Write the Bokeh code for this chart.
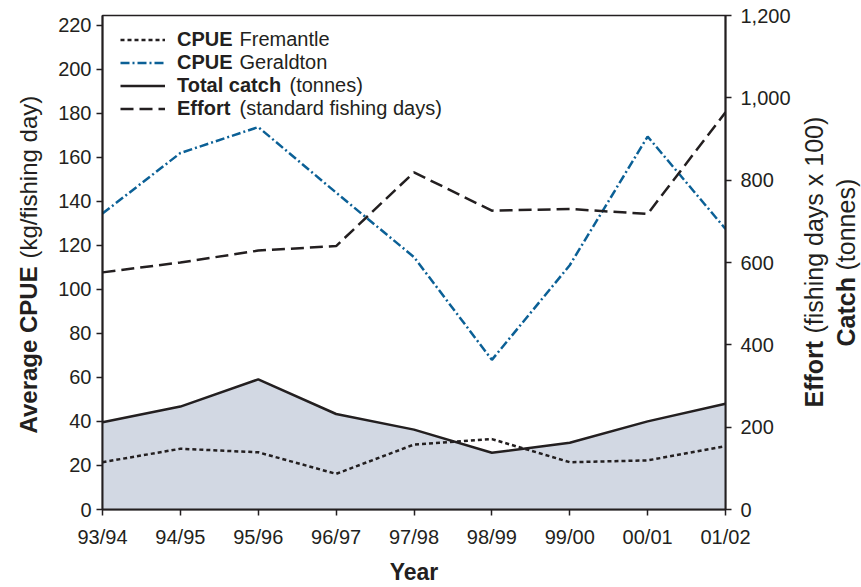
import numpy as np
from bokeh.plotting import figure
from bokeh.layouts import row
from bokeh.models import (Range1d, LinearAxis, FixedTicker, NumeralTickFormatter,
                          Legend, LegendItem, Label, ColumnDataSource)
from bokeh.embed import file_html
from bokeh.resources import INLINE

# ---------------- data ----------------
years = ["93/94", "94/95", "95/96", "96/97", "97/98", "98/99", "99/00", "00/01", "01/02"]
cpue_fremantle = [21.5, 27.6, 26.0, 16.2, 29.5, 32.0, 21.5, 22.3, 28.8]        # kg/fishing day
cpue_geraldton = [134.5, 162.0, 173.8, 144.0, 114.7, 68.0, 111.0, 169.5, 127.5]  # kg/fishing day
total_catch = [212, 250, 316, 232, 194, 138, 162, 214, 257]                     # tonnes
effort = [576, 600, 629, 640, 819, 726, 730, 718, 965]                          # fishing days x 100

left_ticks = list(range(0, 221, 20))
right_ticks = list(range(0, 1201, 200))

x = list(range(len(years)))
src = ColumnDataSource(dict(x=x, fre=cpue_fremantle, ger=cpue_geraldton,
                            catch=total_catch, effort=effort,
                            zero=[0] * len(years)))

# ---------------- layout constants (page pixels) ----------------
H = 587
LW, MW, RW = 54, 746, 61          # left text strip, main chart, right text strip
FX0, FY0, FW, FH = 102, 15, 623, 494   # frame position / size on page
LEFT_MAX, RIGHT_MAX = 224.5, 1200
TXT = "#231f20"
FONT = "Liberation Sans"

p = figure(width=MW, height=H, output_backend="svg", toolbar_location=None,
           x_range=Range1d(0, len(years) - 1), y_range=Range1d(0, LEFT_MAX),
           min_border_left=FX0 - LW, min_border_top=FY0,
           min_border_right=MW - (FX0 - LW) - FW, min_border_bottom=H - FY0 - FH)
p.extra_y_ranges = {"right": Range1d(0, RIGHT_MAX)}
p.grid.visible = False
p.outline_line_color = TXT
p.outline_line_width = 1.5
p.background_fill_color = "white"
p.border_fill_color = "white"

def style_axis(ax, size="20px"):
    ax.axis_line_color = TXT
    ax.axis_line_width = 2
    ax.major_tick_line_color = TXT
    ax.major_tick_line_width = 1.5
    ax.major_tick_out = 6
    ax.major_tick_in = 0
    ax.minor_tick_line_color = None
    ax.major_label_text_font = FONT
    ax.major_label_text_font_size = size
    ax.major_label_text_color = TXT

# x axis
xa = p.xaxis[0]
xa.ticker = FixedTicker(ticks=x)
xa.major_label_overrides = {i: s for i, s in enumerate(years)}
style_axis(xa)
xa.major_label_standoff = 10
xa.axis_label = "Year"
xa.axis_label_text_font = FONT
xa.axis_label_text_font_size = "23px"
xa.axis_label_text_font_style = "bold"
xa.axis_label_text_color = TXT
xa.axis_label_standoff = 8

# left axis
ya = p.yaxis[0]
ya.ticker = FixedTicker(ticks=left_ticks)
style_axis(ya)
ya.major_label_standoff = 5

# right axis
ra = LinearAxis(y_range_name="right", ticker=FixedTicker(ticks=right_ticks),
                formatter=NumeralTickFormatter(format="0,0"))
style_axis(ra)
ra.major_label_standoff = 9
p.add_layout(ra, "right")

# ---------------- glyphs ----------------
p.varea(x="x", y1="zero", y2="catch", source=src, y_range_name="right",
        fill_color="#d2d8e3", fill_alpha=1.0)
r_catch = p.line("x", "catch", source=src, y_range_name="right",
                 line_color=TXT, line_width=2.5)
r_fre = p.line("x", "fre", source=src, line_color=TXT, line_width=2.5,
               line_dash="4 3")
r_ger = p.line("x", "ger", source=src, line_color="#0b6096", line_width=2.5,
               line_dash="9 3 2 3")
r_eff = p.line("x", "effort", source=src, y_range_name="right",
               line_color=TXT, line_width=2.5, line_dash="13 6")

# ---------------- legend ----------------
ROW_H = 23
legend = Legend(items=[LegendItem(label="CPUE", renderers=[r_fre]),
                       LegendItem(label="CPUE", renderers=[r_ger]),
                       LegendItem(label="Total catch", renderers=[r_catch]),
                       LegendItem(label="Effort", renderers=[r_eff])],
                location=(18, 389), padding=0, margin=0, spacing=0,
                label_height=ROW_H, glyph_height=ROW_H, glyph_width=45,
                label_standoff=12, border_line_color=None,
                background_fill_alpha=0,
                label_text_font=FONT, label_text_font_size="20px",
                label_text_font_style="bold", label_text_color=TXT)
p.add_layout(legend, "center")

# page-pixel position -> main-chart data coords (text placement only)
def dx(px):
    return (px - FX0) / FW * (len(years) - 1)

def dy(py):
    return ((FY0 + FH) - py) / FH * LEFT_MAX

leg_rest = ["Fremantle", "Geraldton", "(tonnes)", "(standard fishing days)"]
leg_rest_x = [239, 239, 289, 239]
for i, (t, px) in enumerate(zip(leg_rest, leg_rest_x)):
    p.add_layout(Label(x=dx(px), y=dy(38 + ROW_H * i), text=t, text_font=FONT,
                       text_font_size="20px", text_color=TXT,
                       text_baseline="middle", text_align="left"))

# ---------------- side strips for rotated axis titles ----------------
# (row layout aligns the strips' frames with the main frame: page y 15..509)
def strip(width, x0):
    f = figure(width=width, height=H, output_backend="svg", toolbar_location=None,
               x_range=Range1d(x0, x0 + width), y_range=Range1d(FY0 + FH, FY0),
               x_axis_type=None, y_axis_type=None, min_border=0)
    f.grid.visible = False
    f.outline_line_color = None
    f.background_fill_color = "white"
    f.border_fill_color = "white"
    return f

def title_part(f, px, py, text, bold, size="24px"):
    f.add_layout(Label(x=px, y=py, text=text, angle=np.pi / 2,
                       text_font=FONT, text_font_size=size,
                       text_font_style="bold" if bold else "normal",
                       text_color=TXT, text_baseline="middle", text_align="left"))

left = strip(LW, 0)
title_part(left, 28, 433, "Average CPUE", True)
title_part(left, 28, 258, "(kg/fishing day)", False)

right = strip(RW, LW + MW)
title_part(right, 813, 407, "Effort", True, "25px")
title_part(right, 813, 333, "(fishing days x 100)", False, "25px")
title_part(right, 845, 346, "Catch", True, "25px")
title_part(right, 845, 270, "(tonnes)", False, "25px")

layout = row(left, p, right)
open("out.html", "w").write(file_html(layout, INLINE))
